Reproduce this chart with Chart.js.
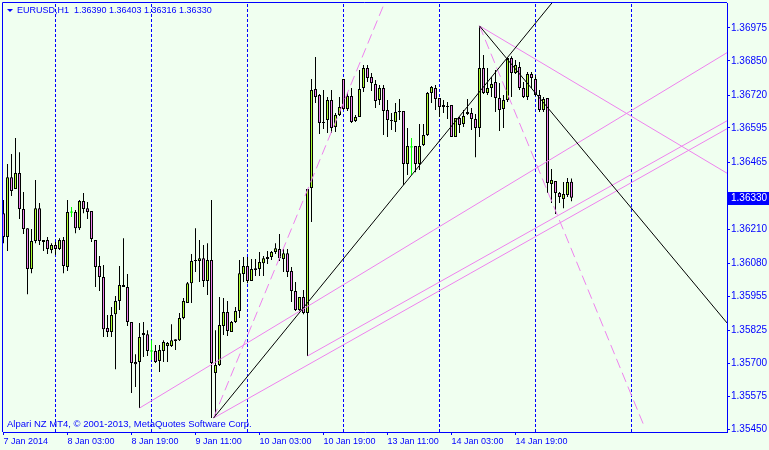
<!DOCTYPE html>
<html>
<head>
<meta charset="utf-8">
<script src="https://cdn.jsdelivr.net/npm/chart.js@4.4.1/dist/chart.umd.min.js"></script>
<style>
  html, body { margin: 0; padding: 0; background: #F0FFF0; }
</style>
</head>
<body>
<canvas id="chart" width="769" height="450"></canvas>
<script>
// EURUSD H1, bars from 7 Jan 2014 11:00
const symbolTitle = 'EURUSD,H1'
const copyright = 'Alpari NZ MT4, \u00A9 2001-2013, MetaQuotes Software Corp.'

const xTickBars = [0, 16, 32, 48, 64, 80, 96, 112, 128]
const xTickLabels = ['7 Jan 2014', '8 Jan 03:00', '8 Jan 19:00', '9 Jan 11:00', '10 Jan 03:00',
  '10 Jan 19:00', '13 Jan 11:00', '14 Jan 03:00', '14 Jan 19:00']
const yTickValues = [1.35450, 1.35575, 1.35700, 1.35825, 1.35955, 1.36080, 1.36210,
  1.36465, 1.36595, 1.36720, 1.36850, 1.36975]
// day separators (bar index of 00:00)
const separatorBars = [13, 37, 61, 85, 109, 133, 157]

const opens = [
  1.36271, 1.36180, 1.36408, 1.36363, 1.36424, 1.36287, 1.36214, 1.36059, 1.36165, 1.36290,
  1.36169, 1.36169, 1.36131, 1.36150, 1.36135, 1.36169, 1.36066, 1.36275, 1.36275, 1.36214,
  1.36317, 1.36290, 1.36279, 1.36169, 1.36070, 1.36028, 1.35834, 1.35819, 1.35887, 1.35937,
  1.35998, 1.35990, 1.35857, 1.35705, 1.35705, 1.35815, 1.35811, 1.35747, 1.35747, 1.35709,
  1.35747, 1.35766, 1.35766, 1.35785, 1.35788, 1.35872, 1.35929, 1.36005, 1.36089, 1.36089,
  1.36100, 1.36013, 1.36093, 1.35663, 1.35694, 1.35842, 1.35895, 1.35819, 1.35857, 1.35899,
  1.36040, 1.36070, 1.36013, 1.36055, 1.36059, 1.36081, 1.36097, 1.36104, 1.36123, 1.36135,
  1.36097, 1.36119, 1.36051, 1.35975, 1.35903, 1.35952, 1.35891, 1.36367, 1.36743, 1.36720,
  1.36618, 1.36625, 1.36701, 1.36599, 1.36644, 1.36781, 1.36667, 1.36716, 1.36621, 1.36637,
  1.36747, 1.36823, 1.36789, 1.36762, 1.36701, 1.36747, 1.36663, 1.36625, 1.36618, 1.36659,
  1.36659, 1.36458, 1.36523, 1.36526, 1.36458, 1.36530, 1.36568, 1.36728, 1.36747, 1.36709,
  1.36682, 1.36675, 1.36682, 1.36561, 1.36633, 1.36610, 1.36656, 1.36652, 1.36629, 1.36595,
  1.36823, 1.36728, 1.36747, 1.36770, 1.36709, 1.36667, 1.36701, 1.36861, 1.36804, 1.36827,
  1.36747, 1.36713, 1.36800, 1.36781, 1.36720, 1.36663, 1.36709, 1.36382, 1.36393, 1.36348,
  1.36325, 1.36340, 1.36390
]
const highs = [
  1.36321, 1.36458, 1.36496, 1.36557, 1.36503, 1.36351, 1.36214, 1.36211, 1.36397, 1.36310,
  1.36169, 1.36180, 1.36157, 1.36161, 1.36176, 1.36180, 1.36321, 1.36294, 1.36283, 1.36321,
  1.36348, 1.36313, 1.36279, 1.36169, 1.36108, 1.36074, 1.35884, 1.35914, 1.35956, 1.36070,
  1.36176, 1.36040, 1.35857, 1.35735, 1.35853, 1.35857, 1.35826, 1.35788, 1.35770, 1.35770,
  1.35788, 1.35781, 1.35849, 1.35792, 1.35891, 1.35948, 1.36009, 1.36116, 1.36214, 1.36169,
  1.36150, 1.36157, 1.36321, 1.35826, 1.35952, 1.35948, 1.35937, 1.35861, 1.35914, 1.36093,
  1.36104, 1.36104, 1.36097, 1.36097, 1.36123, 1.36108, 1.36127, 1.36127, 1.36157, 1.36192,
  1.36135, 1.36135, 1.36066, 1.36009, 1.35952, 1.35979, 1.36363, 1.36781, 1.36865, 1.36724,
  1.36739, 1.36713, 1.36739, 1.36652, 1.36713, 1.36781, 1.36732, 1.36747, 1.36644, 1.36815,
  1.36834, 1.36834, 1.36804, 1.36777, 1.36758, 1.36758, 1.36701, 1.36652, 1.36690, 1.36705,
  1.36659, 1.36595, 1.36557, 1.36526, 1.36610, 1.36610, 1.36732, 1.36754, 1.36758, 1.36709,
  1.36701, 1.36694, 1.36682, 1.36633, 1.36637, 1.36663, 1.36705, 1.36671, 1.36648, 1.36983,
  1.36872, 1.36823, 1.36789, 1.36815, 1.36766, 1.36720, 1.36861, 1.36868, 1.36853, 1.36846,
  1.36770, 1.36808, 1.36808, 1.36796, 1.36739, 1.36713, 1.36709, 1.36439, 1.36393, 1.36351,
  1.36389, 1.36405, 1.36403
]
const lows = [
  1.36157, 1.36127, 1.36336, 1.36363, 1.36249, 1.36192, 1.35963, 1.36043, 1.36157, 1.36150,
  1.36127, 1.36116, 1.36119, 1.36112, 1.36131, 1.36043, 1.36051, 1.36256, 1.36195, 1.36207,
  1.36271, 1.36249, 1.36161, 1.35990, 1.35975, 1.35800, 1.35800, 1.35800, 1.35678, 1.35903,
  1.35990, 1.35842, 1.35587, 1.35610, 1.35530, 1.35724, 1.35728, 1.35713, 1.35701, 1.35667,
  1.35705, 1.35705, 1.35762, 1.35751, 1.35785, 1.35868, 1.35929, 1.35929, 1.36047, 1.36009,
  1.35990, 1.35960, 1.35492, 1.35503, 1.35690, 1.35808, 1.35804, 1.35819, 1.35853, 1.35872,
  1.36009, 1.36005, 1.36013, 1.36032, 1.36032, 1.36032, 1.36078, 1.36093, 1.36116, 1.36089,
  1.36047, 1.36028, 1.35933, 1.35899, 1.35899, 1.35887, 1.35728, 1.36237, 1.36690, 1.36572,
  1.36591, 1.36576, 1.36576, 1.36580, 1.36640, 1.36663, 1.36659, 1.36614, 1.36618, 1.36637,
  1.36732, 1.36770, 1.36735, 1.36671, 1.36682, 1.36568, 1.36561, 1.36587, 1.36580, 1.36625,
  1.36378, 1.36416, 1.36416, 1.36427, 1.36435, 1.36526, 1.36564, 1.36690, 1.36663, 1.36637,
  1.36652, 1.36629, 1.36561, 1.36561, 1.36576, 1.36599, 1.36644, 1.36587, 1.36484, 1.36561,
  1.36724, 1.36720, 1.36713, 1.36656, 1.36583, 1.36595, 1.36694, 1.36713, 1.36800, 1.36739,
  1.36709, 1.36701, 1.36747, 1.36716, 1.36656, 1.36656, 1.36348, 1.36310, 1.36268, 1.36310,
  1.36290, 1.36332, 1.36316
]
const closes = [
  1.36180, 1.36408, 1.36355, 1.36424, 1.36287, 1.36211, 1.36059, 1.36165, 1.36290, 1.36165,
  1.36161, 1.36135, 1.36150, 1.36135, 1.36169, 1.36070, 1.36275, 1.36275, 1.36214, 1.36317,
  1.36287, 1.36275, 1.36173, 1.36066, 1.36028, 1.35830, 1.35819, 1.35884, 1.35937, 1.35998,
  1.35990, 1.35857, 1.35701, 1.35697, 1.35800, 1.35808, 1.35747, 1.35747, 1.35705, 1.35751,
  1.35781, 1.35777, 1.35788, 1.35792, 1.35872, 1.35937, 1.36005, 1.36089, 1.36093, 1.36100,
  1.36013, 1.36093, 1.35701, 1.35694, 1.35846, 1.35895, 1.35823, 1.35857, 1.35899, 1.36043,
  1.36070, 1.36013, 1.36059, 1.36062, 1.36085, 1.36100, 1.36104, 1.36123, 1.36138, 1.36100,
  1.36119, 1.36047, 1.35975, 1.35903, 1.35952, 1.35891, 1.36363, 1.36739, 1.36713, 1.36614,
  1.36614, 1.36701, 1.36595, 1.36644, 1.36675, 1.36667, 1.36716, 1.36618, 1.36637, 1.36743,
  1.36823, 1.36785, 1.36766, 1.36697, 1.36747, 1.36659, 1.36625, 1.36621, 1.36656, 1.36656,
  1.36458, 1.36526, 1.36523, 1.36458, 1.36526, 1.36568, 1.36728, 1.36751, 1.36705, 1.36675,
  1.36675, 1.36678, 1.36561, 1.36633, 1.36606, 1.36640, 1.36648, 1.36629, 1.36595, 1.36823,
  1.36728, 1.36747, 1.36762, 1.36709, 1.36663, 1.36701, 1.36861, 1.36804, 1.36834, 1.36747,
  1.36713, 1.36800, 1.36785, 1.36720, 1.36663, 1.36705, 1.36386, 1.36397, 1.36348, 1.36332,
  1.36344, 1.36389, 1.36330
]

// trend lines: two anchors each, [bar index, price]
const blackRayUp = [[52.5, 1.35492], [100, 1.36378]]
const blackRayDown = [[119, 1.36983], [143, 1.36545]]
const violetRay1 = [[34, 1.35530], [180.75, 1.36880]]
const violetRay2 = [[52.5, 1.35492], [180.75, 1.36591]]
const violetRay3 = [[76, 1.35728], [180.75, 1.36621]]
const violetRay4 = [[119, 1.36983], [180.75, 1.36424]]
const violetDashUp = [[52.5, 1.35492], [95.25, 1.37070]]
const violetDashDown = [[119, 1.36983], [160.25, 1.35458]]

const X_MIN = -0.125, X_MAX = 180.875
const Y_MIN = 1.35439, Y_MAX = 1.37070
const BLUE = '#0000FF'
const BULL = '#ADFF2F', BEAR = '#EE82EE', DOJI = '#00FF00', VIOLET = '#EE82EE'
const FONT = 'Liberation Sans'

Chart.defaults.font.family = FONT
Chart.defaults.font.size = 10

// extend a line through its two anchors to the right
function ray(pts) {
  const a = pts[0], b = pts[1]
  const k = (b[1] - a[1]) / (b[0] - a[0])
  const xEnd = X_MAX + 20
  return [{x: a[0], y: a[1]}, {x: xEnd, y: a[1] + k * (xEnd - a[0])}]
}
function seg(pts) {
  return pts.map(p => ({x: p[0], y: p[1]}))
}
// keep the plot area exactly where the layout puts it
function noPad(s) {
  s.paddingLeft = 0
  s.paddingRight = 0
  s.paddingTop = 0
  s.paddingBottom = 0
}

let wickData = [], bodyData = [], wickColors = [], bodyColors = [], dojiData = []
for (let i = 0; i < opens.length; i++) {
  const o = opens[i], c = closes[i]
  wickData.push({x: i, y: [lows[i], highs[i]]})
  bodyData.push({x: i, y: [o, c]})
  if (o === c) {
    dojiData.push({x: i, y: o})
    wickColors.push(DOJI)
    bodyColors.push(DOJI)
  } else {
    wickColors.push('#000000')
    bodyColors.push(c > o ? BULL : BEAR)
  }
}

let datasets = []
separatorBars.forEach(b => {
  datasets.push({
    type: 'line', data: [{x: b, y: Y_MIN}, {x: b, y: Y_MAX}],
    borderColor: BLUE, borderWidth: 1, borderDash: [3, 2], pointRadius: 0, order: 10
  })
})
datasets.push({
  type: 'bar', data: wickData, backgroundColor: wickColors, borderWidth: 0,
  barThickness: 1, inflateAmount: 0, grouped: false, order: 6
})
datasets.push({
  type: 'bar', data: bodyData, backgroundColor: bodyColors, borderColor: '#000000',
  borderWidth: 1, borderSkipped: false, barThickness: 3, inflateAmount: 0, grouped: false, order: 5
})
datasets.push({
  type: 'scatter', data: dojiData, pointStyle: 'line', pointRadius: 1.5,
  borderColor: DOJI, borderWidth: 1, order: 4
})
;[violetRay1, violetRay2, violetRay3, violetRay4].forEach(l => {
  datasets.push({type: 'line', data: ray(l), borderColor: VIOLET, borderWidth: 1, pointRadius: 0, order: 2})
})
datasets.push({type: 'line', data: ray(violetDashUp), borderColor: VIOLET, borderWidth: 1,
  borderDash: [10, 5], pointRadius: 0, order: 2})
datasets.push({type: 'line', data: seg(violetDashDown), borderColor: VIOLET, borderWidth: 1,
  borderDash: [10, 5], pointRadius: 0, order: 2})
;[blackRayUp, blackRayDown].forEach(l => {
  datasets.push({type: 'line', data: ray(l), borderColor: '#000000', borderWidth: 1, pointRadius: 0, order: 1})
})

// frame, header text, copyright and current price box
const overlay = {
  id: 'overlay',
  afterDraw(chart) {
    const ctx = chart.ctx, a = chart.chartArea
    ctx.save()
    ctx.strokeStyle = BLUE
    ctx.lineWidth = 1
    ctx.beginPath()
    ctx.moveTo(a.left - 0.5, a.bottom)
    ctx.lineTo(a.left - 0.5, a.top - 0.5)
    ctx.lineTo(a.right, a.top - 0.5)
    ctx.stroke()

    ctx.fillStyle = BLUE
    ctx.beginPath()
    ctx.moveTo(a.left + 4, a.top + 6)
    ctx.lineTo(a.left + 10, a.top + 6)
    ctx.lineTo(a.left + 7, a.top + 9)
    ctx.closePath()
    ctx.fill()

    const n = opens.length - 1
    const header = symbolTitle + '  ' + [opens[n], highs[n], lows[n], closes[n]].map(v => v.toFixed(5)).join(' ')
    ctx.textBaseline = 'middle'
    ctx.textAlign = 'left'
    ctx.font = '9px ' + FONT
    ctx.fillText(header, a.left + 14, a.top + 7.5)
    ctx.font = '9.5px ' + FONT
    ctx.fillText(copyright, a.left + 4, a.bottom - 8)

    const y = Math.round(chart.scales.y.getPixelForValue(closes[n]))
    ctx.fillRect(a.right, y - 6, chart.width - a.right, 13)
    ctx.fillStyle = '#FFFFFF'
    ctx.font = '10px ' + FONT
    ctx.fillText(closes[n].toFixed(5), a.right + 4, y + 0.5)
    ctx.restore()
  }
}

new Chart(document.getElementById('chart'), {
  type: 'bar',
  data: {datasets: datasets},
  options: {
    responsive: false,
    animation: false,
    events: [],
    layout: {autoPadding: false, padding: {left: 3, top: 3, right: 0, bottom: 0}},
    plugins: {legend: {display: false}, tooltip: {enabled: false}},
    scales: {
      x: {
        type: 'linear', min: X_MIN, max: X_MAX, offset: false,
        grid: {drawOnChartArea: false, tickLength: 3, color: BLUE, offset: false},
        border: {color: BLUE},
        ticks: {
          color: BLUE, align: 'start', maxRotation: 0, autoSkip: false, padding: 1,
          font: {size: 9},
          callback: (v, i) => xTickLabels[i]
        },
        afterBuildTicks: s => { s.ticks = xTickBars.map(v => ({value: v})) },
        afterFit: s => { s.height = 18; noPad(s) }
      },
      y: {
        type: 'linear', position: 'right', min: Y_MIN, max: Y_MAX,
        grid: {drawOnChartArea: false, tickLength: 3, color: BLUE},
        border: {color: BLUE},
        ticks: {color: BLUE, padding: 1, callback: v => v.toFixed(5)},
        afterBuildTicks: s => { s.ticks = yTickValues.map(v => ({value: v})) },
        afterFit: s => { s.width = 42; noPad(s) }
      }
    }
  },
  plugins: [overlay]
})
</script>
</body>
</html>
